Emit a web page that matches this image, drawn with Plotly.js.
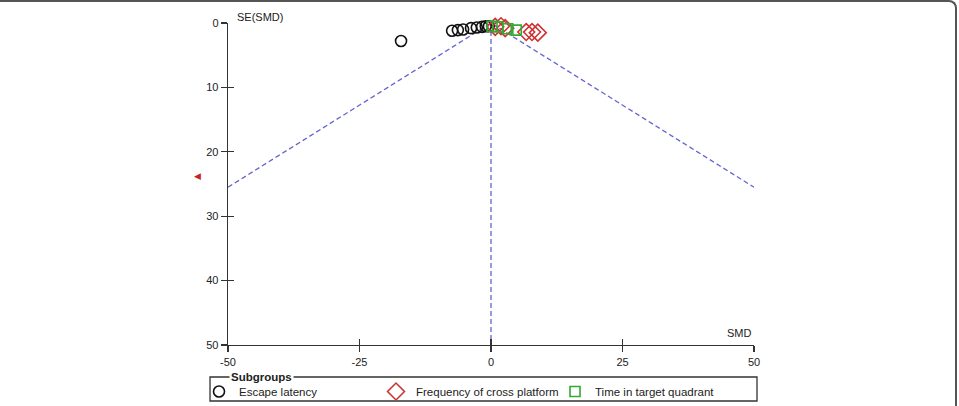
<!DOCTYPE html>
<html>
<head>
<meta charset="utf-8">
<script src="https://cdn.plot.ly/plotly-3.0.1.min.js"></script>
<style>
html,body{margin:0;padding:0;background:#fff;}
#frame{position:absolute;left:0;top:0;width:957px;height:406px;border-top:2px solid #555;border-right:2px solid #555;box-sizing:border-box;border-top-right-radius:8px;pointer-events:none;}
#chart{position:absolute;left:0;top:0;width:959px;height:406px;}
</style>
</head>
<body>
<div id="chart"></div>
<div id="frame"></div>
<script>
// Escape latency (circles)
const escapeSMD = [-17.1, -7.4, -6.3, -5.3, -3.8, -2.7, -1.7, -1.0, -0.4];
const escapeSE  = [2.8, 1.2, 1.1, 1.0, 0.8, 0.7, 0.6, 0.5, 0.5];
// Frequency of cross platform (diamonds)
const crossSMD = [0.8, 1.9, 2.7, 6.7, 7.8, 8.9];
const crossSE  = [0.6, 0.5, 0.8, 1.4, 1.4, 1.5];
// Off-scale cross platform study (arrow at left edge of the x axis)
const offSE  = 23.8;
// Time in target quadrant (squares)
const quadSMD = [0.2, 1.3, 3.2, 4.8];
const quadSE  = [0.5, 0.6, 0.9, 1.1];
// Pooled estimate & funnel
const pooled = 0;
const funnelX = [-50, 0, 50];
const funnelY = [25.5, 0, 25.5];
const xTicks = [-50, -25, 0, 25, 50];
const yTicks = [0, 10, 20, 30, 40, 50];

const font = {family: 'Liberation Sans, Arial, sans-serif', size: 11, color: '#222'};
const dashColor = '#6464cc';

const traces = [
  {x: funnelX, y: funnelY, mode: 'lines', line: {color: dashColor, dash: '5px,3px', width: 1.3}, showlegend: false, hoverinfo: 'skip'},
  {x: [pooled, pooled], y: [0, 50], mode: 'lines', line: {color: dashColor, dash: '5px,3px', width: 1.3}, showlegend: false, hoverinfo: 'skip'},
  {x: escapeSMD, y: escapeSE, mode: 'markers', name: 'Escape latency', cliponaxis: false, legend: 'legend',
   marker: {symbol: 'circle-open', size: 11, color: '#111', line: {width: 1.6}}},
  {x: crossSMD, y: crossSE, mode: 'markers', name: 'Frequency of cross platform', cliponaxis: false, legend: 'legend2',
   marker: {symbol: 'diamond-open', size: 13, color: '#cc3333', line: {width: 1.6}}},
  {x: quadSMD, y: quadSE, mode: 'markers', name: 'Time in target quadrant', cliponaxis: false, legend: 'legend3',
   marker: {symbol: 'square-open', size: 10, color: '#33aa33', line: {width: 1.6}}},
  {x: [], y: [], xaxis: 'x2', yaxis: 'y2', mode: 'markers', showlegend: false, hoverinfo: 'skip'}
];

const axisCommon = {
  showgrid: false, zeroline: false, showline: true, linecolor: '#333', linewidth: 1.3,
  ticks: 'outside', ticklen: 6, tickwidth: 1.3, tickcolor: '#333', tickfont: font
};

const legendCommon = {orientation: 'h', xanchor: 'left', y: -0.0994, yanchor: 'top',
  bgcolor: 'rgba(0,0,0,0)', borderwidth: 0, font: {family: font.family, size: 11.5, color: '#222'}, itemwidth: 30};

const layout = {
  width: 959, height: 406,
  margin: {l: 228, r: 205, t: 23, b: 61, autoexpand: false},
  paper_bgcolor: '#fff', plot_bgcolor: '#fff',
  font: font,
  xaxis: Object.assign({}, axisCommon, {range: [-50, 50], tickvals: xTicks, ticktext: xTicks.map(String), anchor: 'y'}),
  yaxis: Object.assign({}, axisCommon, {range: [50, 0], tickvals: yTicks, ticktext: yTicks.map(String), anchor: 'x'}),
  xaxis2: {range: [-50, 50], overlaying: 'x', side: 'bottom', anchor: 'y2', showgrid: false, zeroline: false, showline: false,
    ticks: 'inside', ticklen: 6, tickwidth: 1.3, tickcolor: '#333', tickvals: xTicks, showticklabels: false},
  yaxis2: {range: [50, 0], overlaying: 'y', side: 'left', anchor: 'x2', showgrid: false, zeroline: false, showline: false,
    ticks: 'inside', ticklen: 6, tickwidth: 1.3, tickcolor: '#333', tickvals: yTicks, showticklabels: false},
  showlegend: true,
  legend: Object.assign({}, legendCommon, {x: -0.0551}),
  legend2: Object.assign({}, legendCommon, {x: 0.2814}),
  legend3: Object.assign({}, legendCommon, {x: 0.6217}),
  shapes: [
    {type: 'rect', xref: 'paper', yref: 'paper', x0: -0.0342, x1: 1.0057, y0: -0.1739, y1: -0.0994,
     line: {color: '#333', width: 1.3}, fillcolor: 'rgba(0,0,0,0)'}
  ],
  annotations: [
    {text: 'SE(SMD)', xref: 'paper', yref: 'paper', x: 0.013, y: 1.0186, xanchor: 'left', yanchor: 'middle', showarrow: false, font: font},
    {text: 'SMD', xref: 'paper', yref: 'paper', x: 1.0, y: 0.037, xanchor: 'right', yanchor: 'middle', showarrow: false, font: font},
    {text: '<b>Subgroups</b>', xref: 'paper', yref: 'paper', x: 0.002, y: -0.0994, xanchor: 'left', yanchor: 'middle', showarrow: false,
     bgcolor: '#fff', borderpad: 1, font: {family: font.family, size: 11.5, color: '#222'}},
    {text: '◀', xref: 'x', yref: 'y', x: -50, y: offSE, xshift: -31, xanchor: 'center', yanchor: 'middle', showarrow: false,
     font: {family: 'DejaVu Sans', size: 9, color: '#cc2222'}}
  ]
};

Plotly.newPlot('chart', traces, layout, {displayModeBar: false, staticPlot: true});
</script>
</body>
</html>
